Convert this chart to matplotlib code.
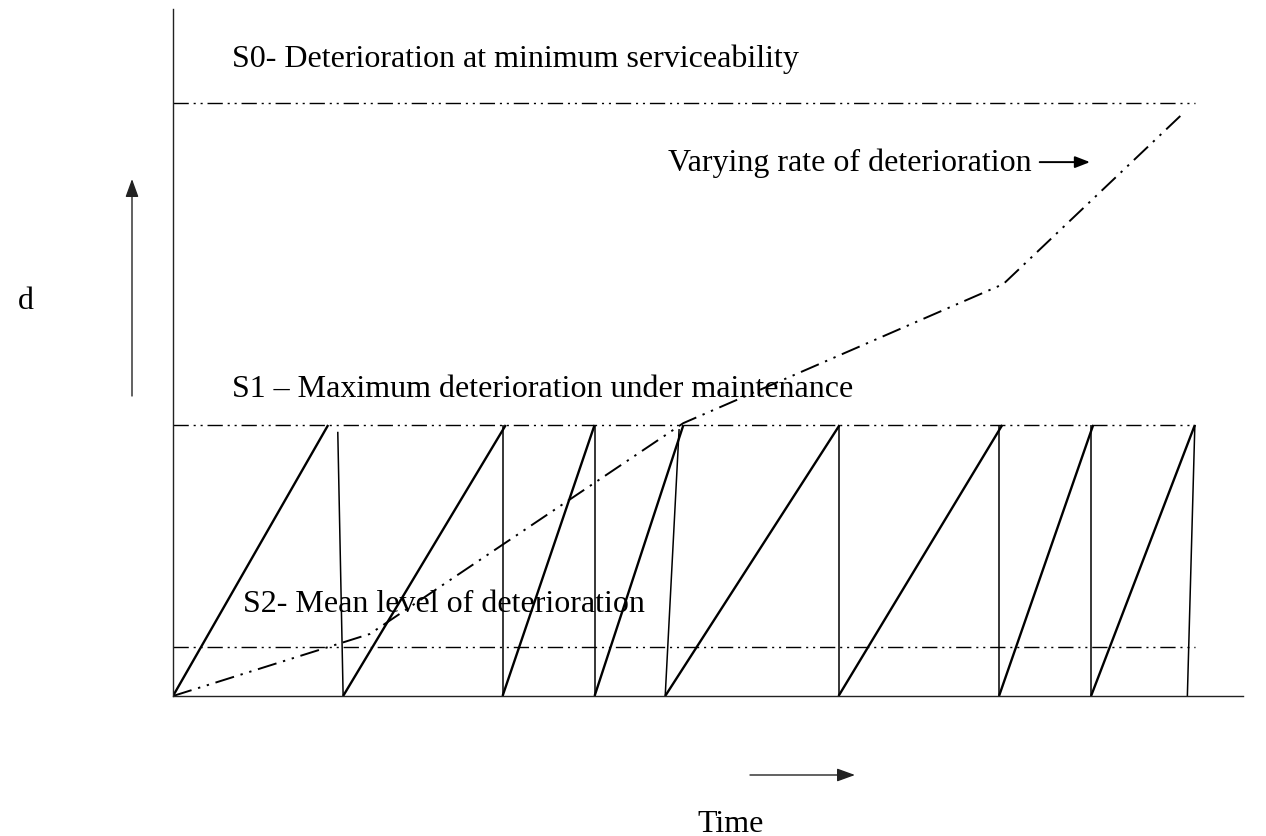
import matplotlib
matplotlib.use("Agg")
import matplotlib.pyplot as plt

plt.rcParams['font.family'] = ['Liberation Serif', 'DejaVu Serif']

# time axis runs 0..100, deterioration d in units of the S1 level
rise_start = [0, 15.9, 30.8, 39.4, 46.0, 62.2, 77.2, 85.8]
rise_peak = [14.5, 31.1, 39.4, 47.7, 62.3, 77.5, 86.0, 95.5]
drop_top = [15.4, 30.8, 39.4, 47.3, 62.2, 77.2, 85.8, 95.5]
drop_top_d = [0.975, 1.0, 1.0, 0.985, 1.0, 1.0, 1.0, 1.0]
drop_bottom = [15.9, 30.8, 39.4, 46.0, 62.2, 77.2, 85.8, 94.8]

curve_t = [0, 18.4, 47.7, 77.6, 94.4]
curve_d = [0, 0.229, 1.007, 1.52, 2.15]

levels = [2.188, 1.0, 0.181]
level_end = 95.5
level_labels = ["S0- Deterioration at minimum serviceability",
                "S1 \u2013 Maximum deterioration under maintenance",
                "S2- Mean level of deterioration"]
label_pos = [(5.5, 2.355), (5.5, 1.135), (6.5, 0.34)]

dashdotdot = (0, (11, 3.5, 1.5, 3.5, 1.5, 3.5))
fs = 23

fig = plt.figure(figsize=(12.66, 8.37), dpi=100)
ax = fig.add_axes([173 / 1266, 140 / 837, 1070 / 1266, 687 / 837])
ax.set_xlim(0, 100)
ax.set_ylim(0, 2.535)
for side in ['top', 'right']:
    ax.spines[side].set_visible(False)
for side in ['left', 'bottom']:
    ax.spines[side].set_linewidth(1.0)
    ax.spines[side].set_color('#222222')
ax.set_xticks([])
ax.set_yticks([])

# reference levels
for lev in levels:
    ax.plot([0, level_end], [lev, lev], color='black', lw=1.0, ls=dashdotdot)

# sawtooth: deterioration rises to S1, maintenance drops it back
for t0, t1 in zip(rise_start, rise_peak):
    ax.plot([t0, t1], [0, 1.0], color='black', lw=1.7, solid_capstyle='butt')
for t0, d0, t1 in zip(drop_top, drop_top_d, drop_bottom):
    ax.plot([t0, t1], [d0, 0], color='black', lw=1.1, solid_capstyle='butt')

# unmaintained deterioration
ax.plot(curve_t, curve_d, color='black', lw=1.4,
        ls=(0, (10, 3.5, 1.2, 3.5, 1.2, 3.5)))

for txt, (x, y) in zip(level_labels, label_pos):
    ax.text(x, y, txt, fontsize=fs, va='center', ha='left')

ax.text(46.3, 1.97, "Varying rate of deterioration", fontsize=fs,
        va='center', ha='left')
ax.annotate("", xy=(85.7, 1.97), xytext=(81.0, 1.97),
            arrowprops=dict(arrowstyle='-|>,head_length=0.9,head_width=0.35',
                            color='black', lw=1.4, shrinkA=0, shrinkB=0))

# axis labels with arrows outside the plot
fig.text(18 / 1266, 1 - 302 / 837, "d", fontsize=fs, va='center', ha='left')
ax.annotate("", xy=(132 / 1266, 1 - 180 / 837), xytext=(132 / 1266, 1 - 397 / 837),
            xycoords='figure fraction', textcoords='figure fraction',
            arrowprops=dict(arrowstyle='-|>,head_length=1.1,head_width=0.4',
                            color='#222222', lw=1.0, shrinkA=0, shrinkB=0))
fig.text(731 / 1266, 1 - 825 / 837, "Time", fontsize=fs, va='center', ha='center')
ax.annotate("", xy=(855 / 1266, 1 - 776 / 837), xytext=(750 / 1266, 1 - 776 / 837),
            xycoords='figure fraction', textcoords='figure fraction',
            arrowprops=dict(arrowstyle='-|>,head_length=1.1,head_width=0.4',
                            color='#222222', lw=1.0, shrinkA=0, shrinkB=0))

fig.savefig("out.png", dpi=100)
